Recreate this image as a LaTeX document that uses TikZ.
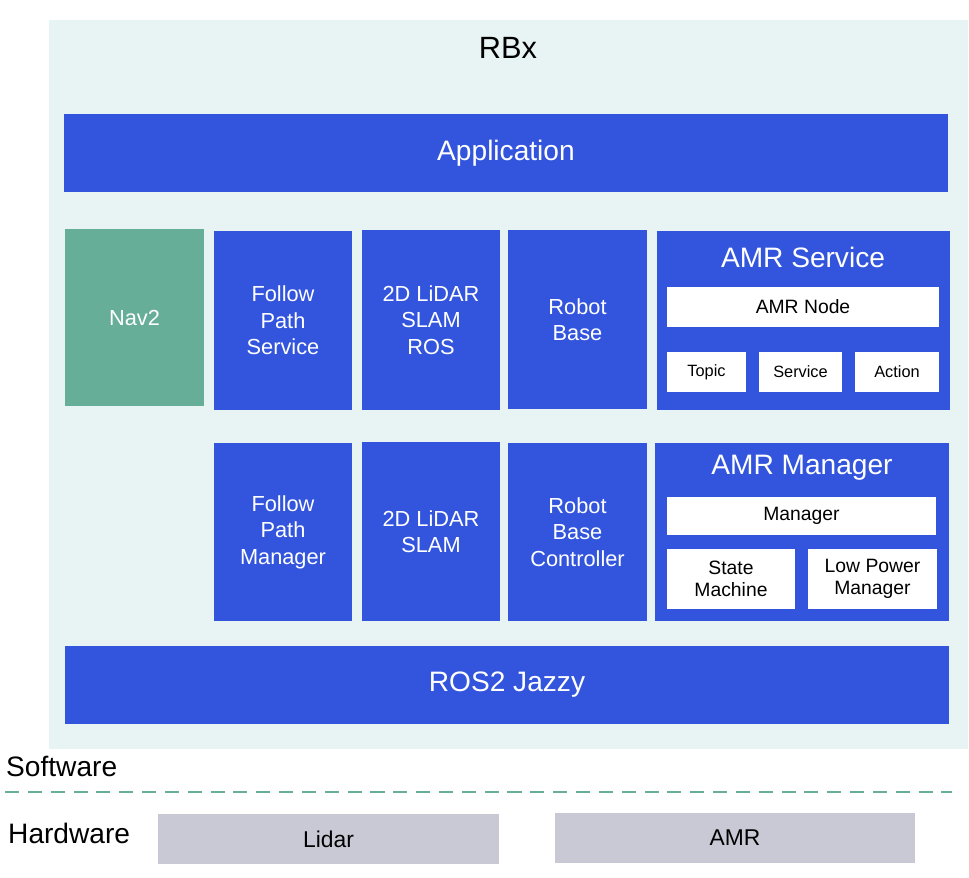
\documentclass[tikz,border=0pt]{standalone}
\usepackage{fontspec}
\setmainfont{Liberation Sans}
\definecolor{bgc}{HTML}{E8F4F3}
\definecolor{blu}{HTML}{3355DD}
\definecolor{grn}{HTML}{66AE97}
\definecolor{gry}{HTML}{C9C9D6}
\begin{document}
\begin{tikzpicture}[x=0.02cm,y=-0.02cm,
 bx/.style={fill=blu,draw=none,text=white,align=center,font=\fontsize{12.4}{15}\selectfont},
 wb/.style={fill=white,draw=none,text=black,align=center,font=\fontsize{11}{13}\selectfont},
 sm/.style={fill=white,draw=none,text=black,align=center,font=\fontsize{9.3}{11}\selectfont},
 big/.style={font=\fontsize{16}{19}\selectfont}]
\useasboundingbox (0,0) rectangle (969,877);
\fill[bgc] (49,20) rectangle (968,749);
\node[font=\fontsize{17.5}{20}\selectfont] (rbx) at (508,48) {RBx};
\path[bx,big] (64,114) rectangle (948,192) node[midway] (app) {Application};
\path[fill=grn,text=white,font=\fontsize{12.4}{15}\selectfont] (65,229) rectangle (204,406) node[midway] (nav) {Nav2};
\path[bx] (214,231) rectangle (352,410) node[midway,align=center] (fps) {Follow\\Path\\Service};
\path[bx] (362,230) rectangle (500,410) node[midway,align=center] (slr) {2D LiDAR\\SLAM\\ROS};
\path[bx] (508,230) rectangle (647,409) node[midway,align=center] (rb) {Robot\\Base};
\fill[blu] (657,231) rectangle (950,410);
\node[text=white,big] (ams) at (803,257) {AMR Service};
\path[wb] (667,287) rectangle (939,327) node[midway] (amn) {AMR Node};
\path[sm] (667,352) rectangle (746,392) node[midway] (tp) {Topic};
\path[sm] (759,352) rectangle (842,392) node[midway] (sv) {Service};
\path[sm] (855,352) rectangle (939,392) node[midway] (ac) {Action};
\path[bx] (214,443) rectangle (352,621) node[midway,align=center] (fpm) {Follow\\Path\\Manager};
\path[bx] (362,442) rectangle (500,621) node[midway,align=center] (sl) {2D LiDAR\\SLAM};
\path[bx] (508,443) rectangle (647,621) node[midway,align=center] (rbc) {Robot\\Base\\Controller};
\fill[blu] (655,443) rectangle (949,621);
\node[text=white,big] (amm) at (802,468) {AMR Manager};
\path[wb] (667,497) rectangle (936,535) node[midway] (mg) {Manager};
\path[wb,font=\fontsize{11}{12.5}\selectfont] (667,549) rectangle (795,609) node[midway,align=center] (st) {State\\Machine};
\path[wb,font=\fontsize{11}{12.5}\selectfont] (808,549) rectangle (937,609) node[midway,align=center] (lp) {Low Power\\Manager};
\path[bx,big] (65,646) rectangle (949,724) node[midway] (ros) {ROS2 Jazzy};
\node[big,anchor=west] (sw) at (0,766) {Software};
\coordinate (d1) at (5,792); \coordinate (d2) at (952,792);
\draw[grn,line width=1.5pt,dash pattern=on 8pt off 5pt] (d1) -- (d2);
\node[big,anchor=west] (hw) at (2,833) {Hardware};
\path[fill=gry,font=\fontsize{13}{15}\selectfont] (158,814) rectangle (499,864) node[midway] (li) {Lidar};
\path[fill=gry,font=\fontsize{13}{15}\selectfont] (555,813) rectangle (915,863) node[midway] (amr) {AMR};
\end{tikzpicture}
\end{document}
